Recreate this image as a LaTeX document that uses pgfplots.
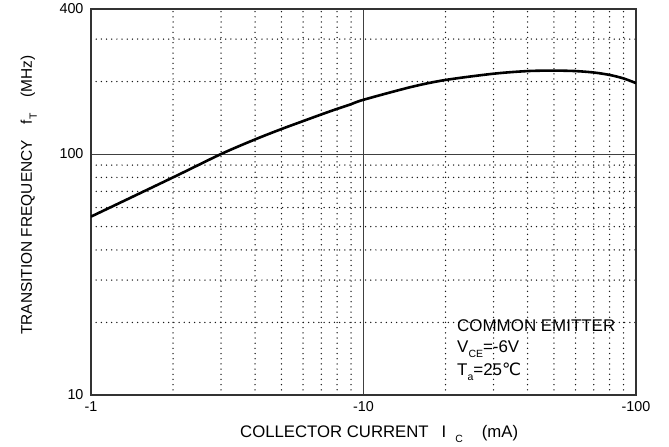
\documentclass[border=0pt]{standalone}
\usepackage{pgfplots}
\pgfplotsset{compat=1.18}
\usepackage{fontspec}
\setmainfont{Liberation Sans}
\newfontfamily\dejavu{DejaVu Sans}
\newcommand\sub[1]{\raisebox{-5bp}{\fontsize{10.5}{10.5}\selectfont #1}}

\begin{document}
\begin{tikzpicture}
\begin{axis}[
  at={(0,0)}, anchor=south west,
  scale only axis, width=545bp, height=386bp,
  xmode=log, ymode=log,
  xmin=1, xmax=100, ymin=10, ymax=400,
  xtick={1,10,100}, xticklabels={-1,-10,-100},
  ytick={10,100,400}, yticklabels={10,100,400},
  minor xtick={2,3,4,5,6,7,8,9,20,30,40,50,60,70,80,90},
  minor ytick={20,30,40,50,60,70,80,90,200,300},
  major tick length=0pt, minor tick length=0pt,
  grid=both,
  major grid style={black!75, line width=1pt},
  minor grid style={black!90, line width=1.5pt, line cap=round, dash pattern=on 0pt off 5.2pt},
  axis line style={black!80, line width=1.5pt},
  tick label style={font=\fontsize{14.4}{16}\selectfont},
  /pgf/number format/assume math mode=true,
  xticklabel style={yshift=-3bp},
  yticklabel style={xshift=-4bp},
]
\addplot[black, line width=2.6pt, smooth] coordinates {
  (1,55) (2,80) (3,100) (4,115) (5,127) (6,137) (7,146) (8,154) (9,161)
  (10,168) (15,190) (20,203) (30,215.5) (40,221) (50,222) (60,221) (70,218)
  (80,213) (90,206) (100,197)
};
\end{axis}
% labels (1bp = 1 reference pixel, origin at the plot's lower left corner)
\node[anchor=base west, font=\fontsize{17}{20}\selectfont, inner sep=0pt]
  at (366bp,63bp) {COMMON EMITTER};
\node[anchor=base west, font=\fontsize{17}{20}\selectfont, inner sep=0pt]
  at (366bp,42bp) {V\sub{CE}=-6V};
\node[anchor=base west, font=\fontsize{17}{20}\selectfont, inner sep=0pt]
  at (366bp,20bp) {T\sub{a}=25{\dejavu ℃}};
\node[anchor=base west, font=\fontsize{16.8}{19}\selectfont, inner sep=0pt]
  at (149bp,-42bp) {COLLECTOR CURRENT\hspace{13bp}I\hspace{9bp}\sub{C}\hspace{19bp}(mA)};
\node[anchor=base west, rotate=90, font=\fontsize{15.5}{18}\selectfont, inner sep=0pt]
  at (-59bp,60bp) {TRANSITION FREQUENCY\hspace{16bp}f\sub{T}\hspace{16bp}(MHz)};
\pgfresetboundingbox
\path[use as bounding box] (-91bp,-52bp) rectangle (578bp,395bp);
\end{tikzpicture}
\end{document}
